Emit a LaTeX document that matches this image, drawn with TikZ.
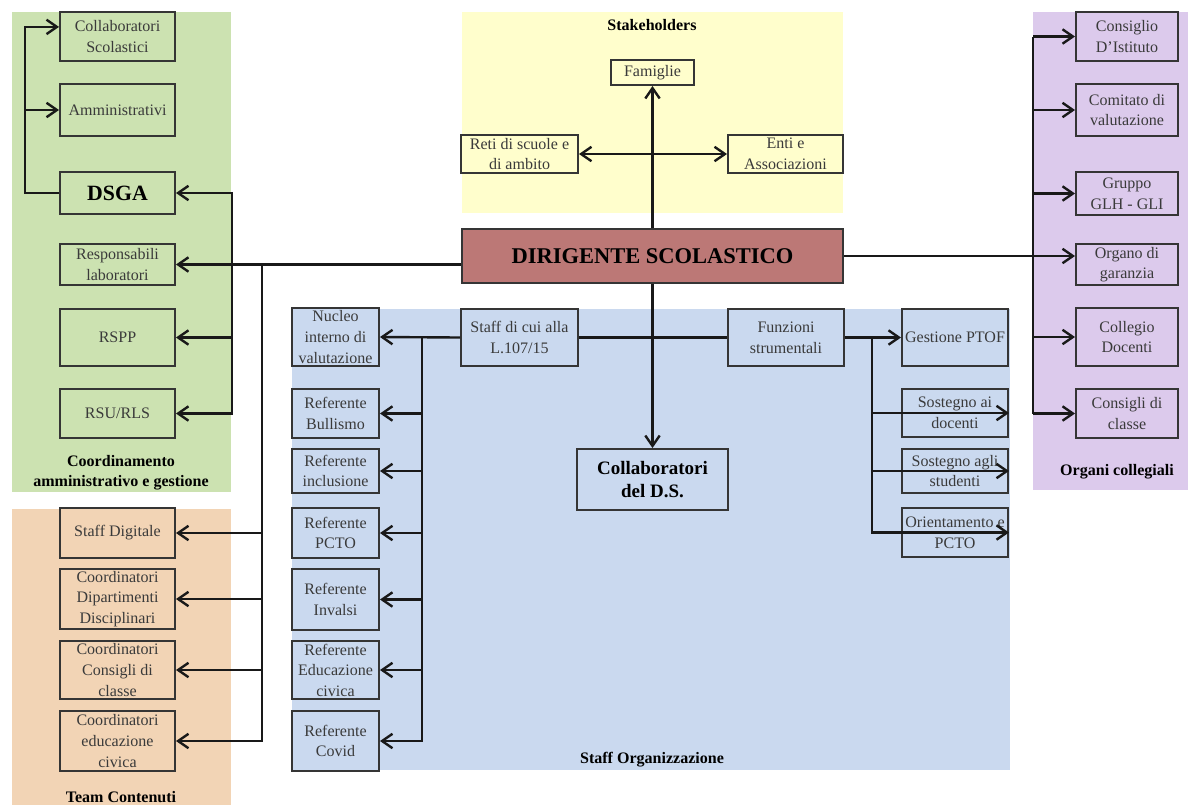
\documentclass[tikz,border=0pt]{standalone}
\usepackage{fontspec}
\setmainfont{Liberation Serif}
\usetikzlibrary{arrows.meta}
\usetikzlibrary{calc}

\begin{document}
\begin{tikzpicture}[x=0.025cm, y=-0.025cm]
    \definecolor{border}{HTML}{353535}
\definecolor{boxtext}{HTML}{3A3A3A}
\definecolor{gestione}{HTML}{CCE2B1}
\definecolor{contenuti}{HTML}{F2D4B5}
\definecolor{stakeholder}{HTML}{FFFECC}
\definecolor{organizzazione}{HTML}{CAD9EF}
\definecolor{collegiali}{HTML}{DCCAEC}
\definecolor{dirigente}{HTML}{BC7876}

\newcommand\px{0.025cm}
\newcommand\boxfont{\fontsize{11.4}{14.6}\selectfont}

\tikzset{
    wh/.style 2 args={
        minimum width=#1*\px,
        minimum height=#2*\px,
    },
    unit/.style={
        draw=border, line width=1.4pt, rectangle,
        inner sep=0pt, align=center,
        text=boxtext, font=\boxfont,
    },
    group label/.style={
        align=center, inner sep=0pt,
        font=\fontsize{11.4}{14.5}\selectfont\bfseries,
    },
    line/.style={line width=1.7pt, black!90},
    link/.style={line, -{Straight Barb[length=2.6mm, width=3.6mm]}},
    both link/.style={line, {Straight Barb[length=2.6mm, width=3.6mm]}-{Straight Barb[length=2.6mm, width=3.6mm]}},
}

\useasboundingbox (0, 0) rectangle (1190, 805);

% aree
\fill[gestione] (12, 12) rectangle (231, 492);
\fill[contenuti] (12, 509) rectangle (231, 805);
\fill[stakeholder] (462, 12) rectangle (843, 213);
\fill[organizzazione] (292, 309) rectangle (1010, 770);
\fill[collegiali] (1033, 12) rectangle (1188, 490);

\node[group label] at (121, 473) (lbl-gestione) {Coordinamento\\amministrativo e gestione};
\node[group label] at (121, 797) (lbl-contenuti) {Team Contenuti};
\node[group label] at (652, 25) (lbl-stakeholder) {Stakeholders};
\node[group label] at (652, 760) (lbl-staff) {Staff Organizzazione};
\node[group label] at (1117, 472) (lbl-collegiali) {Organi collegiali};

% dirigente
\node[unit, wh={381}{54}, fill=dirigente, text=black,
    font=\fontsize{16}{19}\selectfont\bfseries] at (652.5, 256) (dir) {DIRIGENTE SCOLASTICO};

% coordinamento amministrativo
\begin{scope}[every node/.style={unit}]
    \node[wh={115}{49}] at (117.5, 36.5) (collab) {Collaboratori\\Scolastici};
    \node[wh={115}{52}] at (117.5, 110) (amm) {Amministrativi};
    \node[wh={115}{42}, text=black, font=\fontsize{15.5}{18}\selectfont\bfseries] at (117.5, 193) (dsga) {DSGA};
    \node[wh={115}{41}] at (117.5, 264.5) (resp) {Responsabili\\laboratori};
    \node[wh={115}{57}] at (117.5, 337.5) (rspp) {RSPP};
    \node[wh={115}{49}] at (117.5, 413.5) (rsu) {RSU/RLS};
\end{scope}

% team contenuti
\begin{scope}[every node/.style={unit}]
    \node[wh={115}{50}] at (117.5, 533) (staffdig) {Staff Digitale};
    \node[wh={115}{60}] at (117.5, 599) (coorddip) {Coordinatori\\Dipartimenti\\Disciplinari};
    \node[wh={115}{58}] at (117.5, 670) (coordcons) {Coordinatori\\Consigli di\\classe};
    \node[wh={115}{60}] at (117.5, 741) (coordedu) {Coordinatori\\educazione\\civica};
\end{scope}

% stakeholders
\begin{scope}[every node/.style={unit}]
    \node[wh={83}{25}] at (652.5, 72.5) (famiglie) {Famiglie};
    \node[wh={117}{38}] at (519.5, 154) (reti) {Reti di scuole e\\di ambito};
    \node[wh={115}{38}] at (785.5, 154) (enti) {Enti e\\Associazioni};
\end{scope}

% staff organizzazione
\begin{scope}[every node/.style={unit}]
    \node[wh={117}{57}] at (519.5, 337.5) (staff) {Staff di cui alla\\L.107/15};
    \node[wh={116}{57}] at (786, 337.5) (funz) {Funzioni\\strumentali};
    \node[wh={151}{61}, text=black, font=\fontsize{13.5}{17}\selectfont\bfseries] at (652.5, 479.5) (collabds) {Collaboratori\\del D.S.};

    \node[wh={87}{58}] at (335.5, 337) (nucleo) {Nucleo\\interno di\\valutazione};
    \node[wh={87}{49}] at (335.5, 413.5) (bullismo) {Referente\\Bullismo};
    \node[wh={87}{44}] at (335.5, 471) (inclusione) {Referente\\inclusione};
    \node[wh={87}{50}] at (335.5, 533) (pcto) {Referente\\PCTO};
    \node[wh={87}{61}] at (335.5, 599.5) (invalsi) {Referente\\Invalsi};
    \node[wh={87}{58}] at (335.5, 670) (educiv) {Referente\\Educazione\\civica};
    \node[wh={87}{60}] at (335.5, 741) (covid) {Referente\\Covid};

    \node[wh={106}{57}] at (955, 337.5) (ptof) {Gestione PTOF};
    \node[wh={106}{48}] at (955, 413) (sostdoc) {Sostegno ai\\docenti};
    \node[wh={106}{44}] at (955, 471) (soststud) {Sostegno agli\\studenti};
    \node[wh={106}{49}] at (955, 532.5) (orient) {Orientamento e\\PCTO};
\end{scope}

% organi collegiali
\begin{scope}[every node/.style={unit}]
    \node[wh={102}{49}] at (1127, 36.5) (consiglio) {Consiglio\\D'Istituto};
    \node[wh={102}{52}] at (1127, 110) (comitato) {Comitato di\\valutazione};
    \node[wh={102}{43}] at (1127, 193.5) (gruppo) {Gruppo\\GLH - GLI};
    \node[wh={102}{41}] at (1127, 264.5) (organo) {Organo di\\garanzia};
    \node[wh={102}{58}] at (1127, 337) (collegio) {Collegio\\Docenti};
    \node[wh={102}{49}] at (1127, 413.5) (consigli) {Consigli di\\classe};
\end{scope}

% dorsali
\coordinate (bus-dsga) at (25, 0);
\coordinate (bus-coord) at (232, 0);
\coordinate (bus-team) at (262, 0);
\coordinate (bus-staff) at (422, 0);
\coordinate (bus-funz) at (872, 0);
\coordinate (bus-organi) at (1033, 0);

% collegamenti
\draw[link] (dsga.west) -- (bus-dsga |- dsga.west) |- ([yshift=2.4mm]collab.west);
\draw[link] (bus-dsga |- amm.west) -- (amm.west);

\draw[link] (dir.west |- resp.east) -- (resp.east);
\foreach \target in {dsga, rspp, rsu}
    \draw[link] (bus-coord |- resp.east) |- (\target.east);
\foreach \target in {staffdig, coorddip, coordcons, coordedu}
    \draw[link] (bus-team |- resp.east) |- (\target.east);

\draw[link] (dir.north) -- (famiglie.south);
\draw[both link] (reti.east) -- (enti.west);

\draw[line] (staff.east) -- (funz.west);
\draw[link] (dir.south) -- (collabds.north);

\draw[link] (staff.west) -- (nucleo.east);
\foreach \target in {bullismo, inclusione, pcto, invalsi, educiv, covid}
    \draw[link] (bus-staff |- staff.west) |- (\target.east);

\draw[link] (funz.east) -- (ptof.west);
\foreach \target in {sostdoc, soststud, orient}
    \draw[link] (bus-funz |- funz.east) |- (\target.east);

\draw[link] (dir.east) -- (dir.east -| organo.west);
\draw[line] (bus-organi |- consiglio.west) -- (bus-organi |- consigli.west);
\foreach \target in {consiglio, comitato, gruppo, collegio, consigli}
    \draw[link] (bus-organi |- \target.west) -- (\target.west);
\end{tikzpicture}
\end{document}
